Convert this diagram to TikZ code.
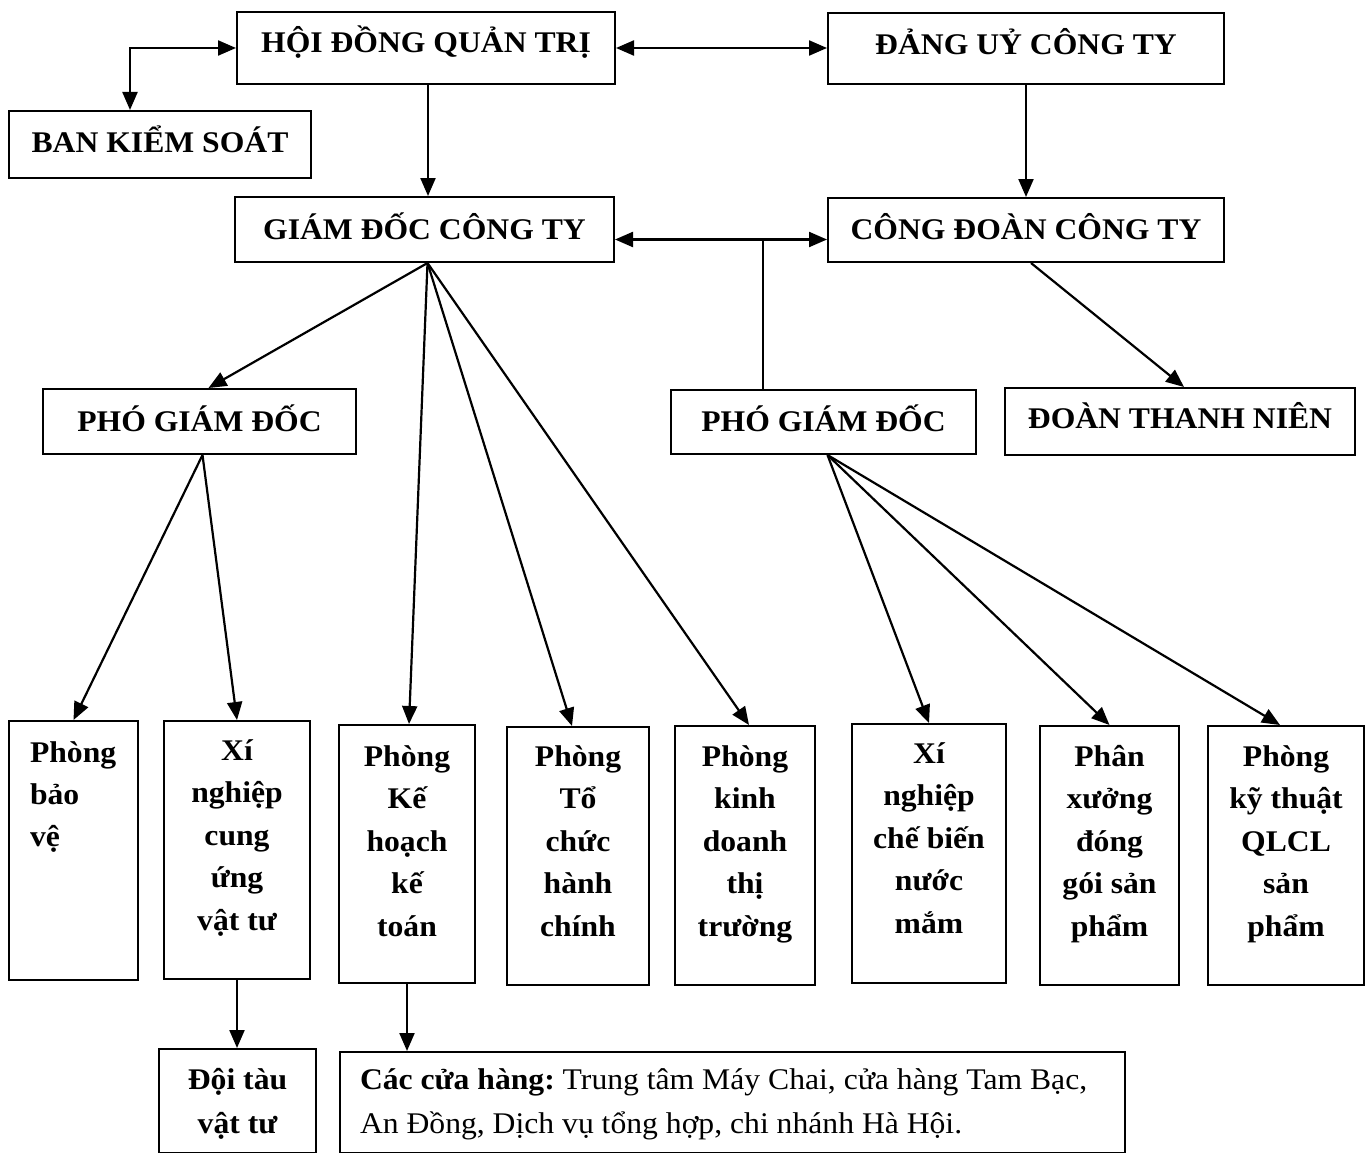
\documentclass[tikz,border=0pt]{standalone}
\usepackage{fontspec}
\setmainfont{Liberation Serif}[FakeStretch=1.055]
\usetikzlibrary{arrows.meta,calc}
\newcommand{\colbox}[5]{\parbox[c][#1][t]{#2}{#3\rule{0pt}{#4}#5}}
\begin{document}
\begin{tikzpicture}[x=1pt,y=-1pt,
  bx/.style={draw, line width=2pt, inner sep=0pt, anchor=north west, font=\fontsize{30}{36}\selectfont\bfseries},
  ttl/.style={bx, text height=22pt, text depth=#1},
  ttl/.default=3pt,
  conn/.style={line width=2.2pt, -{Triangle[length=18pt,width=15pt]}},
  both/.style={line width=2.2pt, {Triangle[length=18pt,width=15pt]}-{Triangle[length=18pt,width=15pt]}},
  ln/.style={line width=2.2pt}]
\useasboundingbox (0,0) rectangle (1370,1153);

% top level
\node[ttl=12pt, minimum width=378pt, minimum height=72pt] (hdqt) at (236,11) {HỘI ĐỒNG QUẢN TRỊ};
\node[ttl=5pt, minimum width=302pt, minimum height=67pt] (bks) at (8,110) {BAN KIỂM SOÁT};
\node[ttl=9pt, minimum width=396pt, minimum height=71pt] (dang) at (827,12) {ĐẢNG UỶ CÔNG TY};
\node[ttl, minimum width=379pt, minimum height=65pt] (gd) at (234,196) {GIÁM ĐỐC CÔNG TY};
\node[ttl=4pt, minimum width=396pt, minimum height=64pt] (cd) at (827,197) {CÔNG ĐOÀN CÔNG TY};
\node[ttl, minimum width=313pt, minimum height=65pt] (pgd1) at (42,388) {PHÓ GIÁM ĐỐC};
\node[ttl, minimum width=305pt, minimum height=64pt] (pgd2) at (670,389) {PHÓ GIÁM ĐỐC};
\node[ttl=8pt, minimum width=350pt, minimum height=67pt] (dtn) at (1004,387) {ĐOÀN THANH NIÊN};

% bottom columns
\node[bx] (pbv) at (8,720) {\colbox{259pt}{129pt}{\raggedright\leftskip=21pt\relax\baselineskip=42pt\relax}{41pt}{Phòng\\bảo\\vệ}};
\node[bx] (xn) at (163,720) {\colbox{258pt}{146pt}{\centering\baselineskip=42.5pt\relax}{39pt}{Xí\\nghiệp\\cung\\ứng\\vật tư}};
\node[bx] (kh) at (338,724) {\colbox{258pt}{136pt}{\centering\baselineskip=42.5pt\relax}{41pt}{Phòng\\Kế\\hoạch\\kế\\toán}};
\node[bx] (tc) at (506,726) {\colbox{258pt}{142pt}{\centering\baselineskip=42.5pt\relax}{39pt}{Phòng\\Tổ\\chức\\hành\\chính}};
\node[bx] (kd) at (674,725) {\colbox{259pt}{140pt}{\centering\baselineskip=42.5pt\relax}{40pt}{Phòng\\kinh\\doanh\\thị\\trường}};
\node[bx] (cb) at (851,723) {\colbox{259pt}{154pt}{\centering\baselineskip=42.5pt\relax}{39pt}{Xí\\nghiệp\\chế biến\\nước\\mắm}};
\node[bx] (px) at (1039,725) {\colbox{259pt}{139pt}{\centering\baselineskip=42.5pt\relax}{40pt}{Phân\\xưởng\\đóng\\gói sản\\phẩm}};
\node[bx] (kt) at (1207,725) {\colbox{259pt}{156pt}{\centering\baselineskip=42.5pt\relax}{40pt}{Phòng\\kỹ thuật\\QLCL\\sản\\phẩm}};

% last row
\node[bx] (dt) at (158,1048) {\colbox{104pt}{157pt}{\centering\baselineskip=44pt\relax}{40pt}{Đội tàu\\vật tư}};
\node[bx, font=\fontsize{30}{36}\selectfont] (cch) at (339,1051) {\colbox{101pt}{785pt}{\frenchspacing\raggedright\leftskip=20pt\relax\baselineskip=44pt\relax}{37pt}{\textbf{Các cửa hàng:} Trung tâm Máy Chai, cửa hàng Tam Bạc,\\An Đồng, Dịch vụ tổng hợp, chi nhánh Hà Hội.}};

% connectors
\coordinate (bk) at ([xshift=-30pt]bks.north);
\draw[both] (hdqt.west) -| (bk);
\draw[both] (hdqt.east) -- (hdqt.east -| dang.west);
\draw[conn] ([xshift=2pt]hdqt.south) -- ([xshift=2pt]hdqt.south |- gd.north);
\draw[conn] (dang.south) -- (dang.south |- cd.north);
\coordinate (m) at ([yshift=-10pt]gd.east);
\draw[both] (m) -- (m -| cd.west);
\coordinate (j) at (763,239);
\draw[ln] (j) -- (j |- pgd2.north);
\draw[conn] ([xshift=5pt]cd.south) -- ([xshift=4pt]dtn.north);

\coordinate (gs) at ([xshift=3pt]gd.south);
\draw[conn] (gs) -- ([xshift=9pt]pgd1.north);
\draw[conn] (gs) -- ([xshift=2pt]kh.north);
\draw[conn] (gs) -- ([xshift=-6pt]tc.north);
\draw[conn] (gs) -- ([xshift=4pt]kd.north);

\coordinate (p1) at ([xshift=3pt]pgd1.south);
\draw[conn] (p1) -- (pbv.north);
\draw[conn] (p1) -- (xn.north);

\coordinate (p2) at ([xshift=4pt]pgd2.south);
\draw[conn] (p2) -- (cb.north);
\draw[conn] (p2) -- (px.north);
\draw[conn] (p2) -- ([xshift=-6pt]kt.north);

\draw[conn] (xn.south) -- (xn.south |- dt.north);
\draw[conn] (kh.south) -- (kh.south |- cch.north);
\end{tikzpicture}
\end{document}
